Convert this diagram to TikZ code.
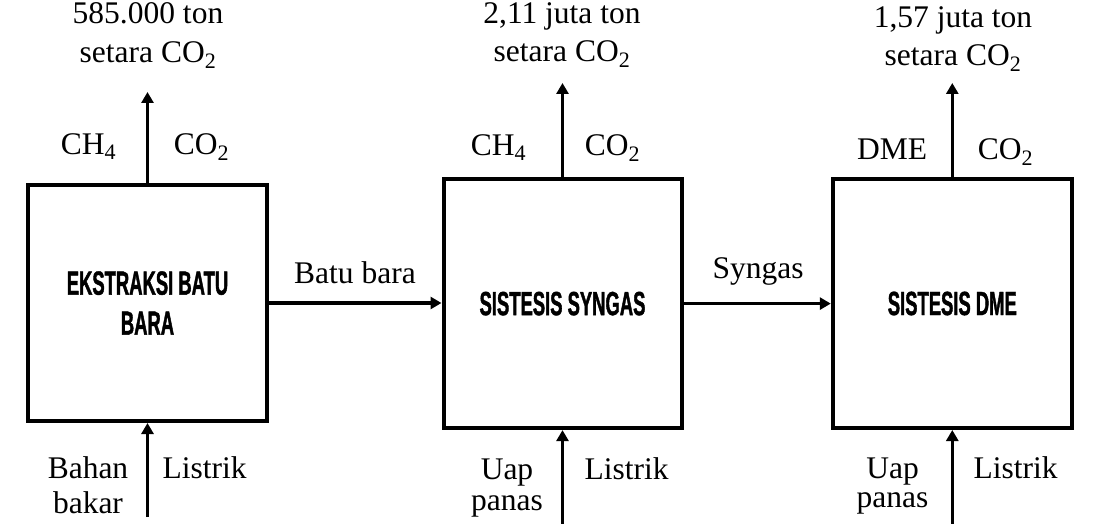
\documentclass[tikz,border=0pt]{standalone}
\usepackage{fontspec}
\setmainfont{Liberation Serif}
\newfontfamily\boxfont[FakeStretch=0.55,FakeBold=1.2]{Liberation Sans}
\usetikzlibrary{arrows.meta}
\tikzset{
  proc/.style={draw, line width=4pt, minimum width=238pt, minimum height=249pt,
    inner sep=0pt, align=center,
    font=\boxfont\bfseries\fontsize{33.5}{40}\selectfont},
  flow/.style={line width=3.4pt, -{Triangle[length=11pt,width=12pt]}},
  lbl/.style={inner sep=0pt, align=center, font=\fontsize{31.5}{#1}\selectfont},
  lbl/.default=39,
}
\begin{document}
\begin{tikzpicture}[x=1pt,y=-1pt]
\useasboundingbox (0,0) rectangle (1100,524);

% process boxes
\node[proc, minimum width=239pt, minimum height=236pt] (b1) at (147.5,303) {EKSTRAKSI BATU\\BARA};
\node[proc] (b2) at (562.5,303.6) {SISTESIS SYNGAS};
\node[proc, minimum width=239pt] (b3) at (952.3,303.5) {SISTESIS DME};

% free ends
\coordinate (t1) at (147.5,92);
\coordinate (t2) at (562.5,83);
\coordinate (t3) at (952.3,83);
\coordinate (s1) at (147.5,517);
\coordinate (s2) at (562.5,524);
\coordinate (s3) at (952.3,524);

% connectors
\draw[flow] (b1.north) -- (t1);
\draw[flow] (b2.north) -- (t2);
\draw[flow] (b3.north) -- (t3);
\draw[flow] (s1) -- (b1.south);
\draw[flow] (s2) -- (b2.south);
\draw[flow] (s3) -- (b3.south);
\draw[flow] (b1.east) -- (b2.west |- b1.east);
\draw[flow] (b2.east) -- (b3.west |- b2.east);

% emission labels
\node[lbl=39, anchor=north] (e1) at (148,-4.3) {\strut 585.000 ton\\\strut setara CO\textsubscript{2}};
\node[lbl=38, anchor=north] (e2) at (562,-3.6) {\strut 2,11 juta ton\\\strut setara CO\textsubscript{2}};
\node[lbl=38, anchor=north] (e3) at (953,0.4) {\strut 1,57 juta ton\\\strut setara CO\textsubscript{2}};

% output species
\node[lbl, anchor=base] (o1a) at (88.5,154) {CH\textsubscript{4}};
\node[lbl, anchor=base] (o1b) at (201.5,154) {CO\textsubscript{2}};
\node[lbl, anchor=base] (o2a) at (498.5,155) {CH\textsubscript{4}};
\node[lbl, anchor=base] (o2b) at (612.5,155) {CO\textsubscript{2}};
\node[lbl, anchor=base] (o3a) at (892,159) {DME};
\node[lbl, anchor=base] (o3b) at (1005.5,159) {CO\textsubscript{2}};

% flow labels
\node[lbl, anchor=base] (f1) at (355,283) {Batu bara};
\node[lbl, anchor=base] (f2) at (758,278) {Syngas};

% inputs
\node[lbl=35, anchor=north] (i1a) at (88,453.5) {\strut Bahan\\\strut bakar};
\node[lbl, anchor=base] (i1b) at (204.5,478) {Listrik};
\node[lbl=31, anchor=north] (i2a) at (507,457.3) {\strut Uap\\\strut panas};
\node[lbl, anchor=base] (i2b) at (626.5,479) {Listrik};
\node[lbl=29, anchor=north] (i3a) at (892.5,457.7) {\strut Uap\\\strut panas};
\node[lbl, anchor=base] (i3b) at (1015.5,478) {Listrik};
\end{tikzpicture}
\end{document}
